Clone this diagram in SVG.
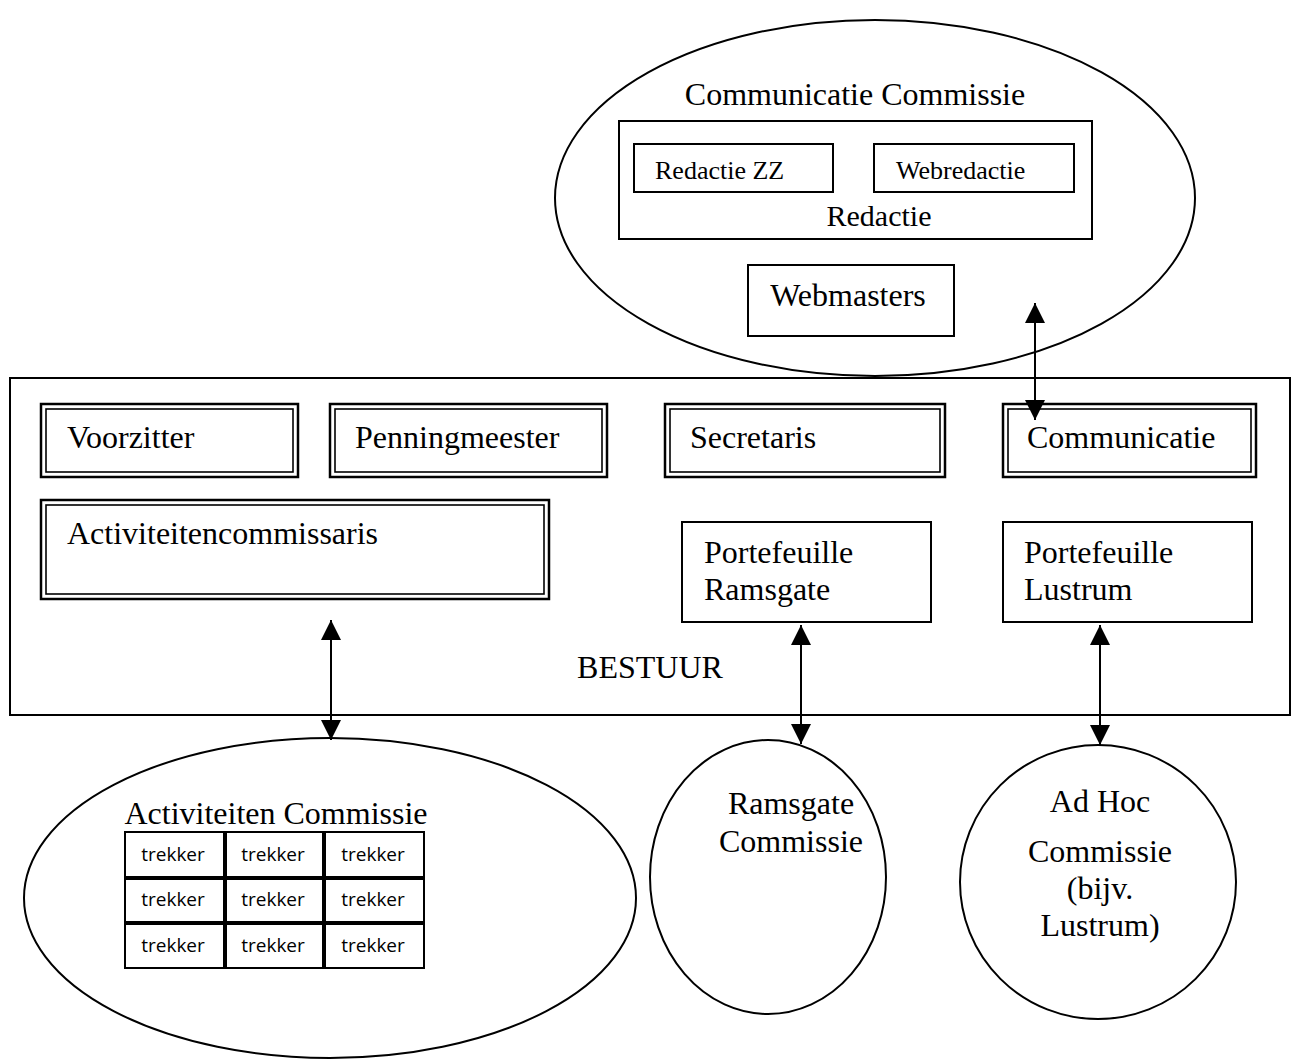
<svg xmlns="http://www.w3.org/2000/svg" width="1295" height="1061" viewBox="0 0 1295 1061">
<defs>
<style>
.s{fill:none;stroke:#000;stroke-width:2}
.t{font-family:"Liberation Serif","Times New Roman",serif;fill:#000}
.b{font-size:32px}
.m{font-size:26px}
.k{font-family:"Open Sans","Liberation Sans",sans-serif;font-size:19px;fill:#000;text-anchor:middle}
.o{fill:none;stroke:#000;stroke-width:2.5}
.i{fill:none;stroke:#000;stroke-width:1.6}
.c{stroke:#000;stroke-width:2;fill:none}
</style>
<marker id="a" viewBox="0 0 20 20" refX="20" refY="10" markerWidth="20" markerHeight="20" markerUnits="userSpaceOnUse" orient="auto-start-reverse">
<path d="M0,0 L20,10 L0,20 z" fill="#000"/>
</marker>
</defs>
<rect width="1295" height="1061" fill="#fff"/>

<g id="communicatie-commissie">
<ellipse class="s" cx="875" cy="198" rx="320" ry="178"/>
<text class="t b" x="855" y="105" text-anchor="middle">Communicatie Commissie</text>
</g>
<g id="redactie">
<rect class="s" x="619" y="121" width="473" height="118"/>
<text class="t" x="879" y="226" font-size="30" text-anchor="middle">Redactie</text>
</g>
<g id="redactie-zz">
<rect class="s" x="634" y="144" width="199" height="48"/>
<text class="t m" x="655" y="179">Redactie ZZ</text>
</g>
<g id="webredactie">
<rect class="s" x="874" y="144" width="200" height="48"/>
<text class="t m" x="896" y="179">Webredactie</text>
</g>
<g id="webmasters">
<rect class="s" x="748" y="265" width="206" height="71"/>
<text class="t b" x="848" y="306" text-anchor="middle">Webmasters</text>
</g>

<g id="bestuur">
<rect class="s" x="10" y="378" width="1280" height="337"/>
<text class="t b" x="650" y="678" text-anchor="middle">BESTUUR</text>
</g>
<g id="voorzitter">
<rect class="o" x="41" y="404" width="257" height="73"/>
<rect class="i" x="46" y="409" width="247" height="63"/>
<text class="t b" x="67" y="448">Voorzitter</text>
</g>
<g id="penningmeester">
<rect class="o" x="330" y="404" width="277" height="73"/>
<rect class="i" x="335" y="409" width="267" height="63"/>
<text class="t b" x="355" y="448">Penningmeester</text>
</g>
<g id="secretaris">
<rect class="o" x="665" y="404" width="280" height="73"/>
<rect class="i" x="670" y="409" width="270" height="63"/>
<text class="t b" x="690" y="448">Secretaris</text>
</g>
<g id="communicatie">
<rect class="o" x="1003" y="404" width="253" height="73"/>
<rect class="i" x="1008" y="409" width="243" height="63"/>
<text class="t b" x="1027" y="448">Communicatie</text>
</g>
<g id="activiteitencommissaris">
<rect class="o" x="41" y="500" width="508" height="99"/>
<rect class="i" x="46" y="505" width="498" height="89"/>
<text class="t b" x="67" y="544">Activiteitencommissaris</text>
</g>
<g id="portefeuille-ramsgate">
<rect class="s" x="682" y="522" width="249" height="100"/>
<text class="t b" x="704" y="563">Portefeuille</text>
<text class="t b" x="704" y="600">Ramsgate</text>
</g>
<g id="portefeuille-lustrum">
<rect class="s" x="1003" y="522" width="249" height="100"/>
<text class="t b" x="1024" y="563">Portefeuille</text>
<text class="t b" x="1024" y="600">Lustrum</text>
</g>

<g id="activiteiten-commissie">
<ellipse class="s" cx="330" cy="898" rx="306" ry="160"/>
<text class="t b" x="276" y="824" text-anchor="middle">Activiteiten Commissie</text>
<g class="s">
<rect x="125" y="832" width="99" height="45"/>
<rect x="226" y="832" width="97" height="45"/>
<rect x="325" y="832" width="99" height="45"/>
<rect x="125" y="879" width="99" height="43"/>
<rect x="226" y="879" width="97" height="43"/>
<rect x="325" y="879" width="99" height="43"/>
<rect x="125" y="924" width="99" height="44"/>
<rect x="226" y="924" width="97" height="44"/>
<rect x="325" y="924" width="99" height="44"/>
</g>
<g class="k">
<text x="173" y="861">trekker</text>
<text x="273" y="861">trekker</text>
<text x="373" y="861">trekker</text>
<text x="173" y="906">trekker</text>
<text x="273" y="906">trekker</text>
<text x="373" y="906">trekker</text>
<text x="173" y="952">trekker</text>
<text x="273" y="952">trekker</text>
<text x="373" y="952">trekker</text>
</g>
</g>
<g id="ramsgate-commissie">
<ellipse class="s" cx="768" cy="877" rx="118" ry="137"/>
<text class="t b" x="791" y="814" text-anchor="middle">Ramsgate</text>
<text class="t b" x="791" y="852" text-anchor="middle">Commissie</text>
</g>
<g id="adhoc-commissie">
<ellipse class="s" cx="1098" cy="882" rx="138" ry="137"/>
<text class="t b" x="1100" y="812" text-anchor="middle">Ad Hoc</text>
<text class="t b" x="1100" y="862" text-anchor="middle">Commissie</text>
<text class="t b" x="1100" y="899" text-anchor="middle">(bijv.</text>
<text class="t b" x="1100" y="936" text-anchor="middle">Lustrum)</text>
</g>

<g id="connectors">
<line class="c" x1="1035" y1="303" x2="1035" y2="420" marker-start="url(#a)" marker-end="url(#a)"/>
<line class="c" x1="331" y1="620" x2="331" y2="740" marker-start="url(#a)" marker-end="url(#a)"/>
<line class="c" x1="801" y1="625" x2="801" y2="744" marker-start="url(#a)" marker-end="url(#a)"/>
<line class="c" x1="1100" y1="625" x2="1100" y2="745" marker-start="url(#a)" marker-end="url(#a)"/>
</g>
</svg>
